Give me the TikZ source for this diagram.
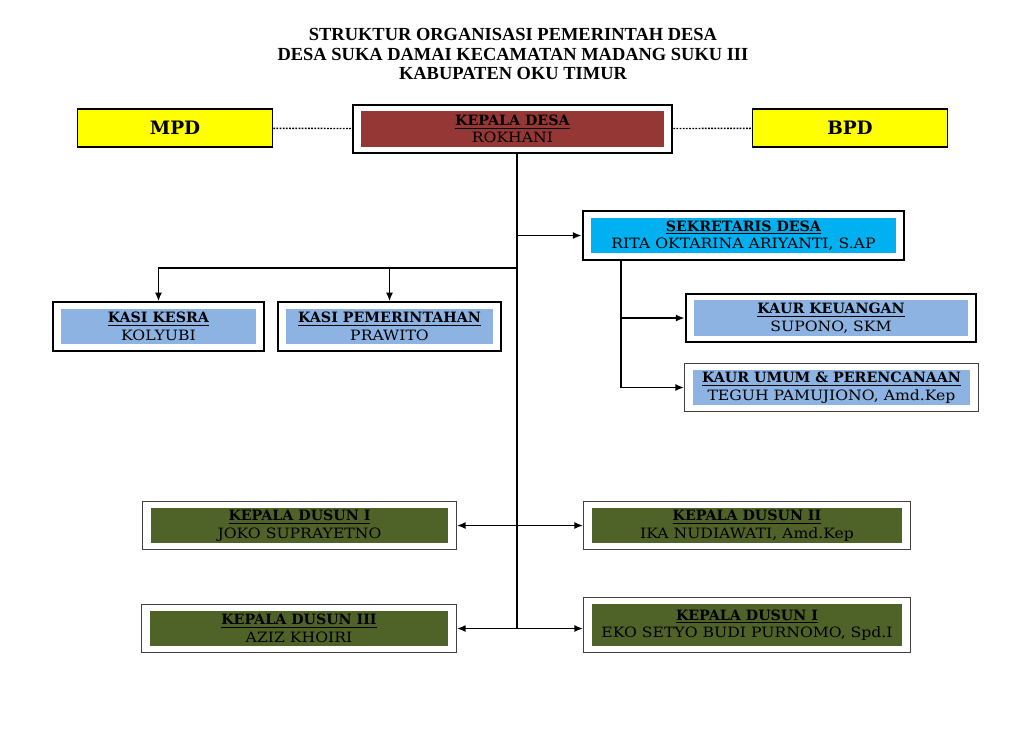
\documentclass[tikz,border=0pt]{standalone}
\usepackage{fontspec}
\setmainfont{DejaVu Serif}
\newfontfamily\namafont{DejaVu Serif}[FakeStretch=1.1]
\newfontfamily\judulfont{Liberation Serif}
\usepackage{tikz}
\definecolor{merahdesa}{HTML}{953735}
\definecolor{birusek}{HTML}{00B0F0}
\definecolor{birukasi}{HTML}{8DB3E2}
\definecolor{hijaudusun}{HTML}{4F6228}
\definecolor{kuning}{HTML}{FFFF00}
\usetikzlibrary{arrows.meta, positioning, fit}
\newcommand{\jabatan}[2]{\underline{\textbf{#1}}\\{\namafont #2}}

\begin{document}
\begin{tikzpicture}[
    x=0.02cm, y=-0.02cm,
    isi/.style={rectangle, fill=#1, minimum height=0.71cm, align=center,
                inner sep=0pt, font=\fontsize{8.1}{10}\selectfont},
    bingkai/.style={rectangle, draw=black, line width=1.1pt,
                inner xsep=0.16cm, inner ysep=0.12cm},
    bingkaitipis/.style={bingkai, line width=0.6pt, draw=black!75},
    pendamping/.style={rectangle, draw=black, fill=kuning, line width=0.9pt,
                minimum width=3.9cm, minimum height=0.76cm,
                font=\fontsize{10.5}{12}\selectfont\bfseries},
    garis/.style={line width=1.1pt},
    panah/.style={garis, -{Latex[length=5pt, width=4pt]}},
    panahdua/.style={garis, {Latex[length=5pt, width=4pt]}-{Latex[length=5pt, width=4pt]}}
]
    \useasboundingbox (0,0) rectangle (1024,728);

    % Judul
    \node[align=center, font=\judulfont\fontsize{10.5}{11.2}\selectfont\bfseries] (judul) at (513,54)
        {STRUKTUR ORGANISASI PEMERINTAH DESA\\DESA SUKA DAMAI KECAMATAN MADANG SUKU III\\KABUPATEN OKU TIMUR};

    % Kepala desa, MPD, BPD
    \node[isi=merahdesa, minimum width=6.06cm, minimum height=0.72cm] (kades) at (512.5,129)
        {\jabatan{KEPALA DESA}{ROKHANI}};
    \node[bingkai, fit=(kades)] (kadesF) {};
    \node[pendamping] (mpd) at (175,128) {MPD};
    \node[pendamping] (bpd) at (850,128) {BPD};

    % Sekretaris desa
    \node[isi=birusek, minimum width=6.1cm] (sekdes) at (743.5,235.5)
        {\jabatan{SEKRETARIS DESA}{RITA OKTARINA ARIYANTI, S.AP}};
    \node[bingkai, fit=(sekdes)] (sekdesF) {};

    % Kasi
    \node[isi=birukasi, minimum width=3.9cm] (kesra) at (158.5,326.5)
        {\jabatan{KASI KESRA}{KOLYUBI}};
    \node[bingkai, fit=(kesra)] (kesraF) {};
    \node[isi=birukasi, minimum width=4.14cm] (pem) at (389.5,326.5)
        {\jabatan{KASI PEMERINTAHAN}{PRAWITO}};
    \node[bingkai, fit=(pem)] (pemF) {};

    % Kaur
    \node[isi=birukasi, minimum width=5.48cm, minimum height=0.72cm] (keu) at (831,318)
        {\jabatan{KAUR KEUANGAN}{SUPONO, SKM}};
    \node[bingkai, fit=(keu)] (keuF) {};
    \node[isi=birukasi, minimum width=5.54cm] (umum) at (831.5,387.5)
        {\jabatan{KAUR UMUM \& PERENCANAAN}{TEGUH PAMUJIONO, Amd.Kep}};
    \node[bingkaitipis, fit=(umum)] (umumF) {};

    % Kepala dusun
    \node[isi=hijaudusun, minimum width=5.94cm] (dusun1) at (299.5,525.5)
        {\jabatan{KEPALA DUSUN I}{JOKO SUPRAYETNO}};
    \node[bingkaitipis, fit=(dusun1)] (dusun1F) {};
    \node[isi=hijaudusun, minimum width=6.2cm] (dusun2) at (747,525.5)
        {\jabatan{KEPALA DUSUN II}{IKA NUDIAWATI, Amd.Kep}};
    \node[bingkaitipis, fit=(dusun2)] (dusun2F) {};
    \node[isi=hijaudusun, minimum width=5.96cm] (dusun3) at (299,628.5)
        {\jabatan{KEPALA DUSUN III}{AZIZ KHOIRI}};
    \node[bingkaitipis, fit=(dusun3)] (dusun3F) {};
    \node[isi=hijaudusun, minimum width=6.2cm, minimum height=0.84cm] (dusun4) at (747,625)
        {\jabatan{KEPALA DUSUN I}{EKO SETYO BUDI PURNOMO, Spd.I}};
    \node[bingkaitipis, fit=(dusun4)] (dusun4F) {};

    % Garis
    \coordinate (batang) at (517,628.5);
    \coordinate (cabang) at (517,268);
    \coordinate (sekgaris) at (621,0);
    \draw[dash pattern=on 1pt off 0.8pt, line width=0.8pt] (mpd) -- (kadesF);
    \draw[dash pattern=on 1pt off 0.8pt, line width=0.8pt] (kadesF) -- (bpd);
    \draw[garis] (kadesF.south -| batang) -- (batang);
    \draw[panah] (batang |- sekdesF.west) -- (sekdesF.west);
    \draw[panah] (cabang) -| (kesraF.north);
    \draw[panah] (cabang -| pemF.north) -- (pemF.north);
    \draw[panah] (sekdesF.south -| sekgaris) |- (umumF.west);
    \draw[panah] (sekgaris |- keuF.west) -- (keuF.west);
    \draw[panahdua] (dusun1F.east) -- (dusun2F.west);
    \draw[panahdua] (dusun3F.east) -- (dusun3F.east -| dusun4F.west);
\end{tikzpicture}
\end{document}
